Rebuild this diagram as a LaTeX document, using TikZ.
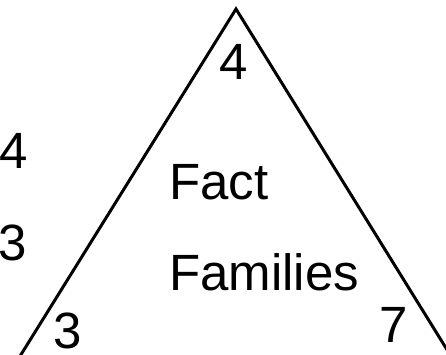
\documentclass[tikz,border=0pt]{standalone}
\usepackage{fontspec}
\setmainfont{Liberation Sans}
\usetikzlibrary{positioning}
\tikzset{
  num/.style={inner sep=0pt, font=\fontsize{51}{60}\selectfont},
  word/.style={num, anchor=base west},
  side/.style={line width=3pt, line join=miter, color=black},
}
\begin{document}
\begin{tikzpicture}[x=1pt, y=-1pt]
      \useasboundingbox (0,0) rectangle (446,355);
      \clip (0,0) rectangle (446,355);
      \coordinate (apex) at (236,9);
      \coordinate (lft) at (17,361);
      \coordinate (rgt) at (454,361);
      \draw[side] (lft) -- (apex) -- (rgt);
      \node[num, anchor=base] (top) at (233.5,80) {4};
      \node[word] (l4) at (-1,168) {4};
      \node[word] (l3) at (-2,260) {3};
      \node[word] (b3) at (53,348) {3};
      \node[word] (b7) at (379.5,342) {7};
      \node[word] (fact) at (169,200) {Fact};
      \node[word] (fam) at (169,290) {Families};
    \end{tikzpicture}
\end{document}
